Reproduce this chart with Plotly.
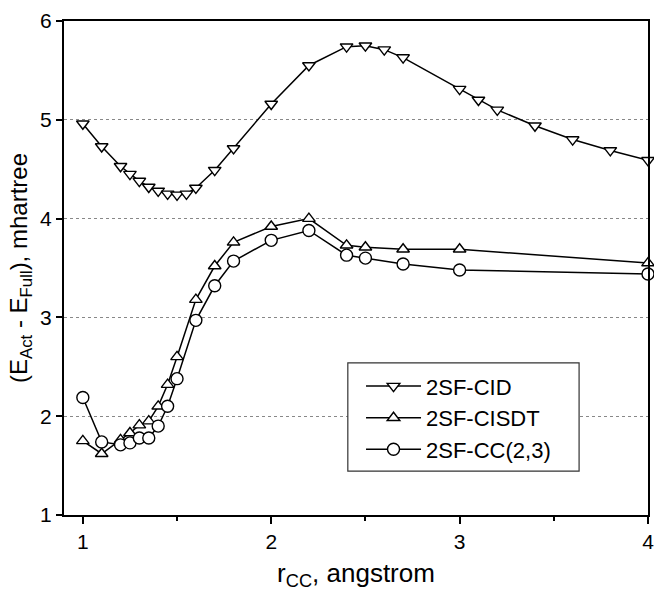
import plotly.graph_objects as go

# r_CC (angstrom)
x_cid = [1.0, 1.1, 1.2, 1.25, 1.3, 1.35, 1.4, 1.45, 1.5, 1.55, 1.6, 1.7, 1.8, 2.0, 2.2, 2.4, 2.5, 2.6, 2.7, 3.0, 3.1, 3.2, 3.4, 3.6, 3.8, 4.0]
y_cid = [4.96, 4.73, 4.53, 4.45, 4.38, 4.32, 4.28, 4.25, 4.24, 4.25, 4.31, 4.49, 4.71, 5.16, 5.55, 5.74, 5.75, 5.71, 5.63, 5.31, 5.20, 5.10, 4.94, 4.80, 4.69, 4.59]

x_cisdt = [1.0, 1.1, 1.2, 1.25, 1.3, 1.35, 1.4, 1.45, 1.5, 1.6, 1.7, 1.8, 2.0, 2.2, 2.4, 2.5, 2.7, 3.0, 4.0]
y_cisdt = [1.75, 1.62, 1.76, 1.83, 1.91, 1.95, 2.10, 2.32, 2.60, 3.18, 3.52, 3.76, 3.92, 4.00, 3.73, 3.71, 3.69, 3.69, 3.55]

x_cc = [1.0, 1.1, 1.2, 1.25, 1.3, 1.35, 1.4, 1.45, 1.5, 1.6, 1.7, 1.8, 2.0, 2.2, 2.4, 2.5, 2.7, 3.0, 4.0]
y_cc = [2.19, 1.74, 1.71, 1.73, 1.78, 1.78, 1.90, 2.10, 2.38, 2.97, 3.32, 3.57, 3.78, 3.88, 3.63, 3.60, 3.54, 3.48, 3.44]

names = ["2SF-CID", "2SF-CISDT", "2SF-CC(2,3)"]
symbols = ["triangle-down", "triangle-up", "circle"]
sizes = [11, 11, 12]

fig = go.Figure()
for xs, ys, nm, sym, sz in zip([x_cid, x_cisdt, x_cc], [y_cid, y_cisdt, y_cc], names, symbols, sizes):
    fig.add_trace(go.Scatter(
        x=xs, y=ys, name=nm, mode="lines+markers",
        line=dict(color="black", width=1.5),
        marker=dict(symbol=sym, size=sz, color="white", line=dict(color="black", width=1.4)),
        cliponaxis=False,
    ))

font_family = "Arial, Liberation Sans, sans-serif"

# legend frame (white box over the grid)
fig.add_shape(type="rect", xref="paper", yref="paper",
              x0=0.486, x1=0.882, y0=0.089, y1=0.308,
              line=dict(color="#333", width=1.2), fillcolor="white", layer="above")

fig.update_layout(
    width=654, height=591,
    margin=dict(l=64, r=6, t=21, b=76, autoexpand=False),
    paper_bgcolor="white", plot_bgcolor="white",
    font=dict(family=font_family, color="black", size=21),
    showlegend=True,
    legend=dict(
        x=0.5086, y=0.303, xanchor="left", yanchor="top",
        borderwidth=0, bgcolor="rgba(0,0,0,0)",
        font=dict(size=22, family=font_family), itemwidth=55,
        tracegroupgap=0,
    ),
    xaxis=dict(
        range=[0.9, 4.0], tickvals=[1, 2, 3, 4], ticks="outside", ticklen=7, tickwidth=1.5,
        tickcolor="black", automargin=False, ticklabeloverflow="allow",
        minor=dict(tickvals=[1.5, 2.5, 3.5], ticks="outside", ticklen=4, tickwidth=1.5, tickcolor="black"),
        showline=True, linecolor="black", linewidth=2, mirror=True,
        showgrid=False, zeroline=False,
        tickfont=dict(size=21),
        title=dict(text="r<sub>CC</sub>, angstrom", font=dict(size=26), standoff=12),
    ),
    yaxis=dict(
        range=[1, 6], tickvals=[1, 2, 3, 4, 5, 6], ticks="outside", ticklen=6, tickwidth=1.5,
        tickcolor="black", automargin=False, ticklabeloverflow="allow",
        showline=True, linecolor="black", linewidth=2, mirror=True,
        showgrid=True, gridcolor="#888", gridwidth=1, griddash="dot",
        zeroline=False,
        tickfont=dict(size=21),
        title=dict(text="(E<sub>Act</sub> - E<sub>Full</sub>), mhartree", font=dict(size=24), standoff=6),
    ),
)

fig.write_html(
    "out.html",
    config={"displayModeBar": False},
    post_script="document.body.style.margin='0';document.body.style.overflow='hidden';",
)
